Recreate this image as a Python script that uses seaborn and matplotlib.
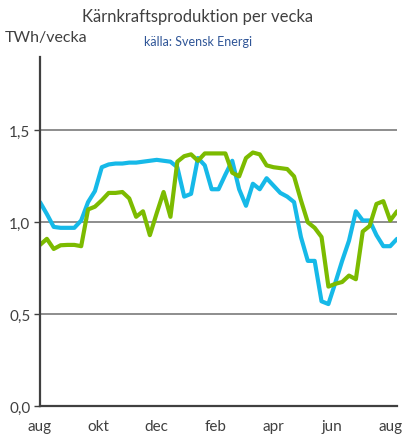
import numpy as np
import pandas as pd
import matplotlib
matplotlib.use("Agg")
import matplotlib.pyplot as plt
import seaborn as sns

weeks = list(range(53))
blue_vals = [1.11, 1.045, 0.975, 0.97, 0.97, 0.97, 1.01, 1.11, 1.17, 1.30,
             1.315, 1.32, 1.32, 1.325, 1.325, 1.33, 1.335, 1.34, 1.335, 1.33,
             1.30, 1.14, 1.155, 1.35, 1.31, 1.18, 1.18, 1.26, 1.335, 1.18,
             1.09, 1.21, 1.18, 1.24, 1.20, 1.16, 1.14, 1.11, 0.92, 0.79,
             0.79, 0.57, 0.555, 0.67, 0.79, 0.90, 1.06, 1.01, 1.01, 0.93,
             0.87, 0.87, 0.91]
green_vals = [0.877, 0.91, 0.855, 0.875, 0.877, 0.877, 0.87, 1.07, 1.085, 1.12,
              1.16, 1.16, 1.165, 1.13, 1.03, 1.06, 0.93, 1.05, 1.165, 1.03,
              1.33, 1.36, 1.37, 1.335, 1.375, 1.375, 1.375, 1.375, 1.27, 1.25,
              1.35, 1.38, 1.37, 1.31, 1.30, 1.295, 1.29, 1.25, 1.12, 1.00,
              0.97, 0.92, 0.65, 0.665, 0.675, 0.71, 0.69, 0.95, 0.98, 1.10,
              1.115, 1.01, 1.06]
month_labels = ["aug", "okt", "dec", "feb", "apr", "jun", "aug"]
month_weeks = [0, 8.5, 17, 25.5, 34, 42.5, 51]
y_ticks = [0.0, 0.5, 1.0, 1.5]
y_tick_labels = ["0,0", "0,5", "1,0", "1,5"]

df = pd.DataFrame({
    "week": weeks * 2,
    "value": blue_vals + green_vals,
    "series": ["blue"] * len(weeks) + ["green"] * len(weeks),
})

sns.set_style("white")
plt.rcParams['font.family'] = ['Lato', 'DejaVu Sans']

fig = plt.figure(figsize=(4.06, 4.39), dpi=100)
ax = fig.add_axes([0.0985, 0.0729, 0.8795, 0.795])

palette = {"blue": "#16B9E8", "green": "#7CBB00"}
sns.lineplot(data=df, x="week", y="value", hue="series", palette=palette,
             linewidth=3.0, ax=ax, legend=False)

ax.set_xlim(0, 52)
ax.set_ylim(0, 1.9)
ax.set_yticks(y_ticks)
ax.set_yticklabels(y_tick_labels)
ax.set_xticks(month_weeks)
ax.set_xticklabels(month_labels)
ax.set_xlabel("")
ax.set_ylabel("")

for v in y_ticks[1:]:
    ax.axhline(v, color="#6f6f6f", linewidth=1.1, zorder=0)

for s in ["top", "right"]:
    ax.spines[s].set_visible(False)
for s in ["left", "bottom"]:
    ax.spines[s].set_color("#404040")
    ax.spines[s].set_linewidth(1.6)

ax.tick_params(axis="y", which="both", left=True, length=4, width=1,
               color="#404040", labelsize=11, labelcolor="#404040", pad=3)
ax.tick_params(axis="x", which="both", bottom=False, labelsize=11,
               labelcolor="#404040", pad=6)

fig.text(0.487, 0.962, "Kärnkraftsproduktion per vecka", ha="center", va="center",
         fontsize=12, color="#404040")
fig.text(0.487, 0.904, "källa: Svensk Energi", ha="center", va="center",
         fontsize=9, color="#2F5597")
fig.text(0.012, 0.913, "TWh/vecka", ha="left", va="center",
         fontsize=11.5, color="#404040")

fig.savefig("out.png", dpi=100)
